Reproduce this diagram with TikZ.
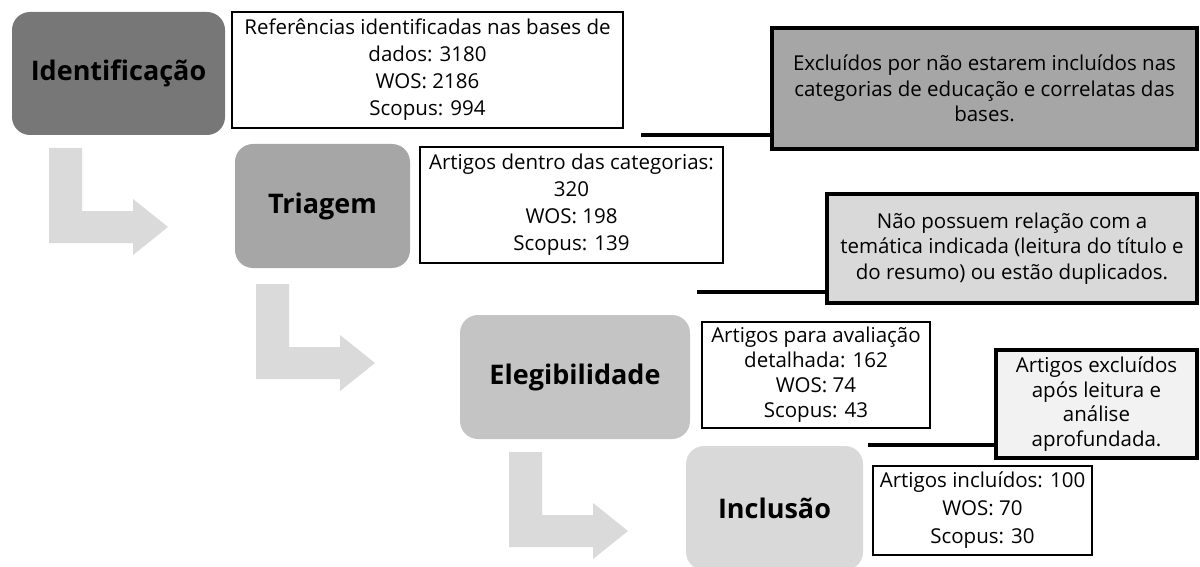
\documentclass[tikz,border=0pt]{standalone}
\usepackage{fontspec}
\setmainfont{Open Sans}
\usepackage{xcolor}
\usepackage{tikz}

\definecolor{phaseA}{HTML}{777777}
\definecolor{phaseB}{HTML}{A6A6A6}
\definecolor{phaseC}{HTML}{C4C4C4}
\definecolor{phaseD}{HTML}{D9D9D9}
\definecolor{dropA}{HTML}{A6A6A6}
\definecolor{dropB}{HTML}{D9D9D9}
\definecolor{dropC}{HTML}{F2F2F2}
\definecolor{arrowgray}{HTML}{DADADA}

\tikzset{
  phase/.style={rounded corners=18pt, inner sep=0pt, text=black,
    font=\fontsize{27}{32}\selectfont\bfseries},
  countbox/.style={draw=black, line width=1.5pt, fill=white, inner sep=0pt,
    align=center, font=\fontsize{20.5}{27}\selectfont},
  dropbox/.style={draw=black, line width=3.5pt, inner sep=0pt,
    align=center, font=\fontsize{20.5}{25.5}\selectfont},
}

\begin{document}
\begin{tikzpicture}[x=1pt,y=-1pt]
			\useasboundingbox (0,0) rectangle (1200,567);
			% bent arrows between the phases
			\foreach \x/\y in {49/148,256/284,509/452}
				\fill[arrowgray] (\x,\y) -- ++(33,0) -- ++(0,63) -- ++(51,0) -- ++(0,-12)
					-- ++(35,28) -- ++(-35,28) -- ++(0,-12) -- ++(-84,0) -- cycle;
			% phases
			\node[phase, fill=phaseA, minimum width=213pt, minimum height=123pt] (ident) at (118.5,73.5) {Identificação};
			\node[phase, fill=phaseB, minimum width=175pt, minimum height=124pt] (triag) at (322.5,206) {Triagem};
			\node[phase, fill=phaseC, minimum width=230pt, minimum height=124pt] (eleg) at (575,377) {Elegibilidade};
			\node[phase, fill=phaseD, minimum width=177pt, minimum height=124pt] (incl) at (774.5,508) {Inclusão};
			% counts
			\node[countbox, minimum width=391pt, minimum height=116pt] (identnum) at (427.5,70)
				{Referências identificadas nas bases de\\dados: 3180\\WOS: 2186\\Scopus: 994};
			\node[countbox, minimum width=303pt, minimum height=116pt] (triagnum) at (571.5,205)
				{Artigos dentro das categorias:\\320\\WOS: 198\\Scopus: 139};
			\node[countbox, minimum width=228pt, minimum height=106pt, font=\fontsize{20.5}{25}\selectfont] (elegnum) at (816,375)
				{Artigos para avaliação\\detalhada: 162\\WOS: 74\\Scopus: 43};
			\node[countbox, minimum width=219pt, minimum height=89pt, font=\fontsize{20.5}{28}\selectfont] (inclnum) at (982.5,510.5)
				{Artigos incluídos: 100\\WOS: 70\\Scopus: 30};
			% exclusions
			\node[dropbox, fill=dropA, minimum width=425pt, minimum height=121pt] (drop1) at (984.5,88.5)
				{Excluídos por não estarem incluídos nas\\categorias de educação e correlatas das\\bases.};
			\node[dropbox, fill=dropB, minimum width=370pt, minimum height=109pt] (drop2) at (1012,248.5)
				{Não possuem relação com a\\temática indicada (leitura do título e\\do resumo) ou estão duplicados.};
			\node[dropbox, fill=dropC, minimum width=201pt, minimum height=108pt, font=\fontsize{20.5}{24.5}\selectfont] (drop3) at (1096.5,404)
				{Artigos excluídos\\após leitura e\\análise\\aprofundada.};
			% leader lines
			\coordinate (lead1) at (641,135);
			\coordinate (lead2) at (697,292);
			\coordinate (lead3) at (868,445);
			\draw[line width=3.5pt] (lead1) -- (lead1 -| drop1.west);
			\draw[line width=3.5pt] (lead2) -- (lead2 -| drop2.west);
			\draw[line width=3.5pt] (lead3) -- (lead3 -| drop3.west);
		\end{tikzpicture}
\end{document}
